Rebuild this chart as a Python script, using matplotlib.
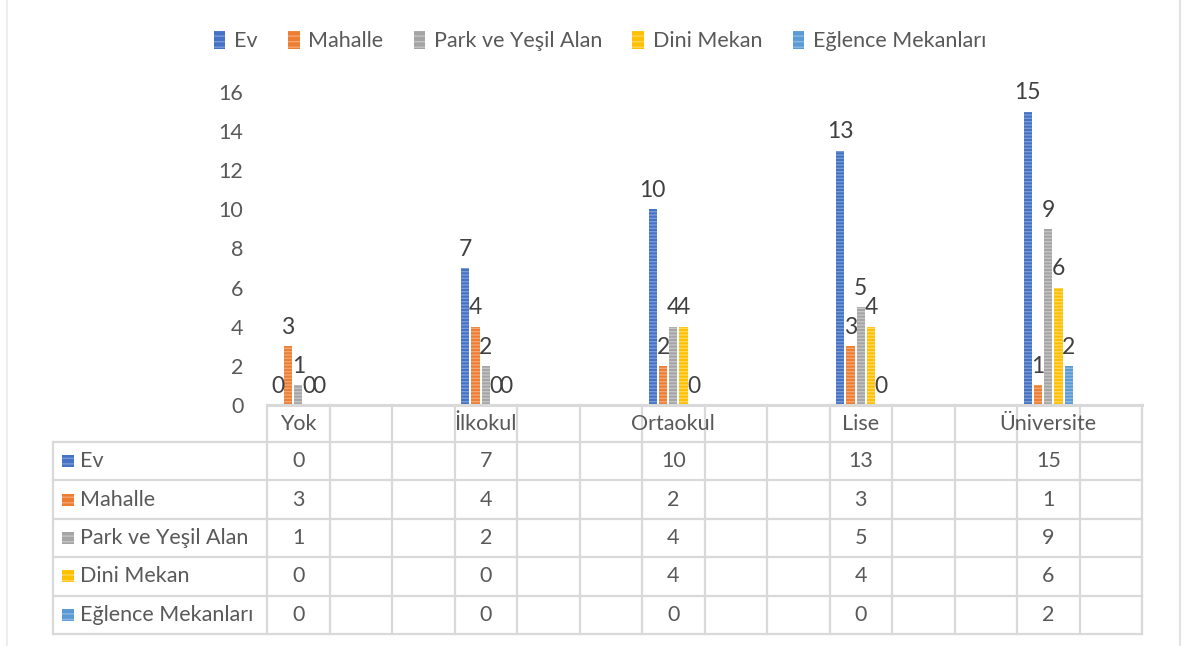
import numpy as np
import matplotlib.pyplot as plt
from matplotlib.patches import Rectangle

# Data
categories = ["Yok", "İlkokul", "Ortaokul", "Lise", "Üniversite"]
series_names = ["Ev", "Mahalle", "Park ve Yeşil Alan", "Dini Mekan", "Eğlence Mekanları"]
ev = [0, 7, 10, 13, 15]
mahalle = [3, 4, 2, 3, 1]
park = [1, 2, 4, 5, 9]
dini = [0, 0, 4, 4, 6]
eglence = [0, 0, 0, 0, 2]
y_ticks = [0, 2, 4, 6, 8, 10, 12, 14, 16]

series = [ev, mahalle, park, dini, eglence]
colors = ["#4472C4", "#ED7D31", "#A5A5A5", "#FFC000", "#5B9BD5"]
stripes = ["#7B9BD8", "#F3A673", "#C4C4C4", "#FFD659", "#8AB8E2"]

plt.rcParams['font.family'] = ['Lato', 'DejaVu Sans']
TXT = "#595959"
GRID = "#D9D9D9"
FS = 15.5

W, H = 1187, 646
fig = plt.figure(figsize=(W / 100, H / 100), dpi=100)

# layout in pixels
x_left, x_right = 267, 1142
y_zero, y_top = 405, 92
n_cols = 14
cat_cols = [0, 3, 6, 9, 12]

def fx(px):
    return px / W

def fy(py):
    return 1 - py / H

ax = fig.add_axes([fx(x_left), fy(y_zero), fx(x_right) - fx(x_left), fy(y_top) - fy(y_zero)])
ax.set_xlim(0, n_cols)
ax.set_ylim(0, 16)
for s in ax.spines.values():
    s.set_visible(False)
ax.set_xticks([])
ax.set_yticks(y_ticks)
ax.tick_params(axis='y', length=0, pad=17, labelsize=FS, labelcolor=TXT)
ax.patch.set_alpha(0)

bar_w = 0.13
step = 0.164
for j, (vals, c, sc) in enumerate(zip(series, colors, stripes)):
    xs = np.array(cat_cols) + 0.5 + (j - 2) * step
    ax.bar(xs, vals, width=bar_w, color=c, edgecolor=sc, linewidth=0, hatch='-----')
    for x, v in zip(xs, vals):
        ax.annotate(str(v), (x, v), xytext=(0, 6), textcoords='offset points',
                    ha='center', va='bottom', fontsize=16.5, color="#404040")

# overlay axes in pixel coords for table and frame
ov = fig.add_axes([0, 0, 1, 1])
ov.set_xlim(0, W)
ov.set_ylim(H, 0)
ov.axis('off')
ov.patch.set_alpha(0)

col_w = (x_right - x_left) / n_cols
row_top = 442
row_h = 38.4
tab_left = 53
tab_bottom = row_top + 5 * row_h

# top border (axis line)
ov.plot([x_left, x_right], [y_zero, y_zero], color=GRID, lw=2.2)
# header verticals
for k in range(n_cols + 1):
    xk = x_left + k * col_w
    ov.plot([xk, xk], [y_zero, tab_bottom], color=GRID, lw=1.6)
# horizontal lines
for r in range(6):
    yr = row_top + r * row_h
    ov.plot([tab_left, x_right], [yr, yr], color=GRID, lw=1.6)
ov.plot([tab_left, tab_left], [row_top, tab_bottom], color=GRID, lw=1.6)

# header labels
for c_idx, cat in zip(cat_cols, categories):
    cx = x_left + (c_idx + 0.5) * col_w
    ov.text(cx, (y_zero + row_top) / 2 + 1, cat, ha='center', va='center',
            fontsize=FS, color=TXT)

# rows
for r, (name, vals, c, sc) in enumerate(zip(series_names, series, colors, stripes)):
    cy = row_top + (r + 0.5) * row_h
    ov.add_patch(Rectangle((62, cy - 6), 12, 12, facecolor=c, edgecolor=sc,
                           linewidth=0, hatch='---'))
    ov.text(80, cy, name, ha='left', va='center', fontsize=FS, color=TXT)
    for c_idx, v in zip(cat_cols, vals):
        cx = x_left + (c_idx + 0.5) * col_w
        ov.text(cx, cy, str(v), ha='center', va='center', fontsize=FS, color=TXT)

# chart frame
ov.plot([1180, 1180], [0, H], color="#E3E3E3", lw=1.5)
ov.plot([7, 7], [0, H], color="#EDEDED", lw=1.5)

# legend
handles = [Rectangle((0, 0), 1, 1, facecolor=c, edgecolor=sc, linewidth=0, hatch='---')
           for c, sc in zip(colors, stripes)]
fig.legend(handles, series_names, loc='center', bbox_to_anchor=(fx(600), fy(41)),
           ncol=5, frameon=False, fontsize=FS, labelcolor=TXT,
           handlelength=0.55, handleheight=0.9, handletextpad=0.4, columnspacing=1.4)

fig.savefig("out.png", dpi=100)
